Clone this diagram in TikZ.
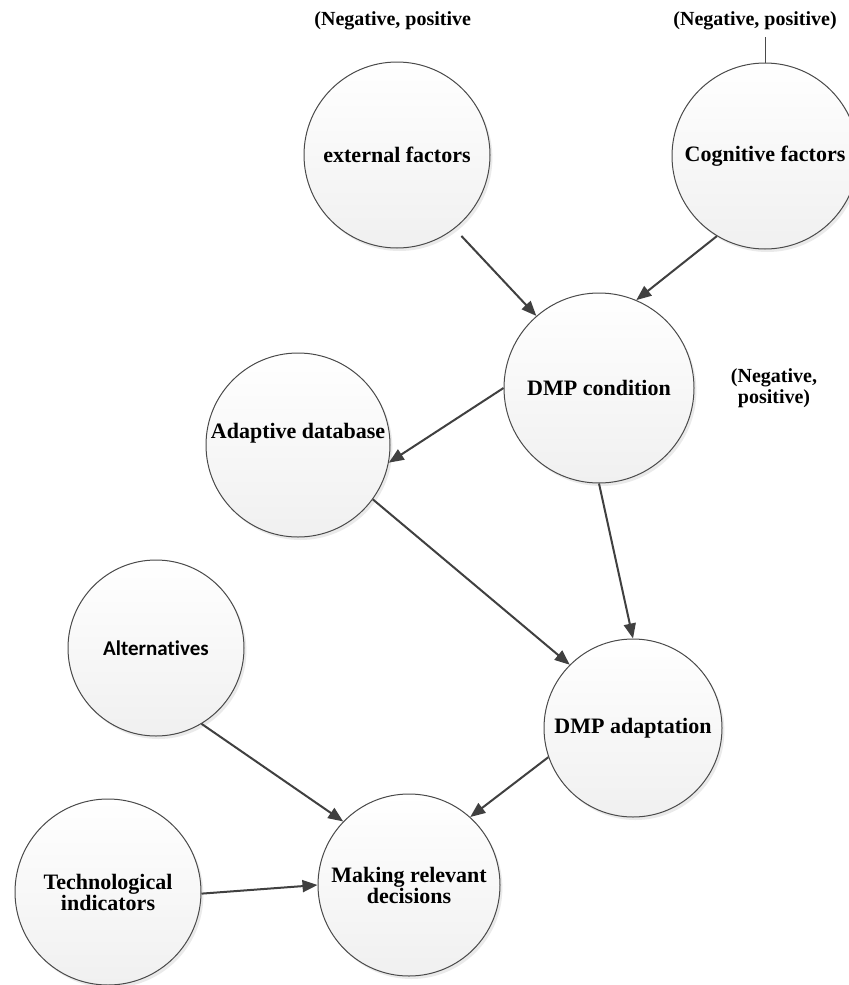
\documentclass[tikz,border=0pt]{standalone}
\usepackage{fontspec}
\setmainfont{Liberation Serif}
\newfontfamily\calibri[Ligatures=NoCommon]{Carlito}
\usetikzlibrary{arrows.meta,shadows}
\definecolor{edgec}{HTML}{404040}
\definecolor{rimc}{HTML}{4A4A4A}
\definecolor{botc}{HTML}{F0F0F0}
\definecolor{midc}{HTML}{FAFAFA}
\begin{document}
\begin{tikzpicture}[x=0.5pt,y=-0.5pt,
  bubtext/.style={font=\fontsize{11}{10.5}\selectfont\bfseries},
  bub/.style={circle, draw=rimc, line width=0.5pt, top color=white, middle color=midc, bottom color=botc,
    inner sep=0pt, align=center, bubtext,
    drop shadow={shadow xshift=1.2pt, shadow yshift=-1.5pt, opacity=0.2, fill=black!40}},
  con/.style={draw=edgec, line width=1pt, -{Triangle[length=7.5pt,width=6pt]}},
  note/.style={font=\fontsize{10}{10.5}\selectfont\bfseries, inner sep=0pt, align=center}]
\path[use as bounding box, fill=white] (0,0) rectangle (849,985);

\node[bub, minimum size=93pt] (ext) at (397,155) {external factors};
\node[bub, minimum size=93pt] (cog) at (765,156) {Cognitive factors};
\node[bub, minimum size=95pt] (dmpc) at (599,388) {DMP condition};
\node[bub, minimum size=92pt, label={[bubtext, yshift=6pt]center:Adaptive database}] (adb) at (298,445) {};
\node[bub, minimum size=89pt] (dmpa) at (633,728) {DMP adaptation};
\node[bub, minimum size=88pt, font=\calibri\fontsize{10.5}{12}\selectfont\bfseries] (alt) at (156,648) {Alternatives};
\node[bub, minimum size=93pt] (tech) at (108,892) {Technological\\indicators};
\node[bub, minimum size=91pt] (mrd) at (409,885) {Making relevant\\decisions};

\node[note, anchor=west] (n1) at (314,21) {(Negative, positive};
\node[note, anchor=west] (n2) at (673,21) {(Negative, positive)};
\node[note] (n3) at (774,388) {(Negative,\\positive)};
\coordinate (tick) at (765,37);
\draw[draw=rimc, line width=0.5pt] (cog.north) -- (tick);

\draw[con, shorten <=5pt] (ext.-52) -- (dmpc.131);
\draw[con] (cog.-121) -- (dmpc.67);
\draw[con] (dmpc.180) -- (adb.-11);
\draw[con] (adb.-36) -- (dmpa.135);
\draw[con] (dmpc.-90) -- (dmpa.90);
\draw[con] (dmpa.-161) -- (mrd.48);
\draw[con] (alt.-59) -- (mrd.136);
\draw[con] (tech.-1) -- (mrd.180);
\end{tikzpicture}
\end{document}
